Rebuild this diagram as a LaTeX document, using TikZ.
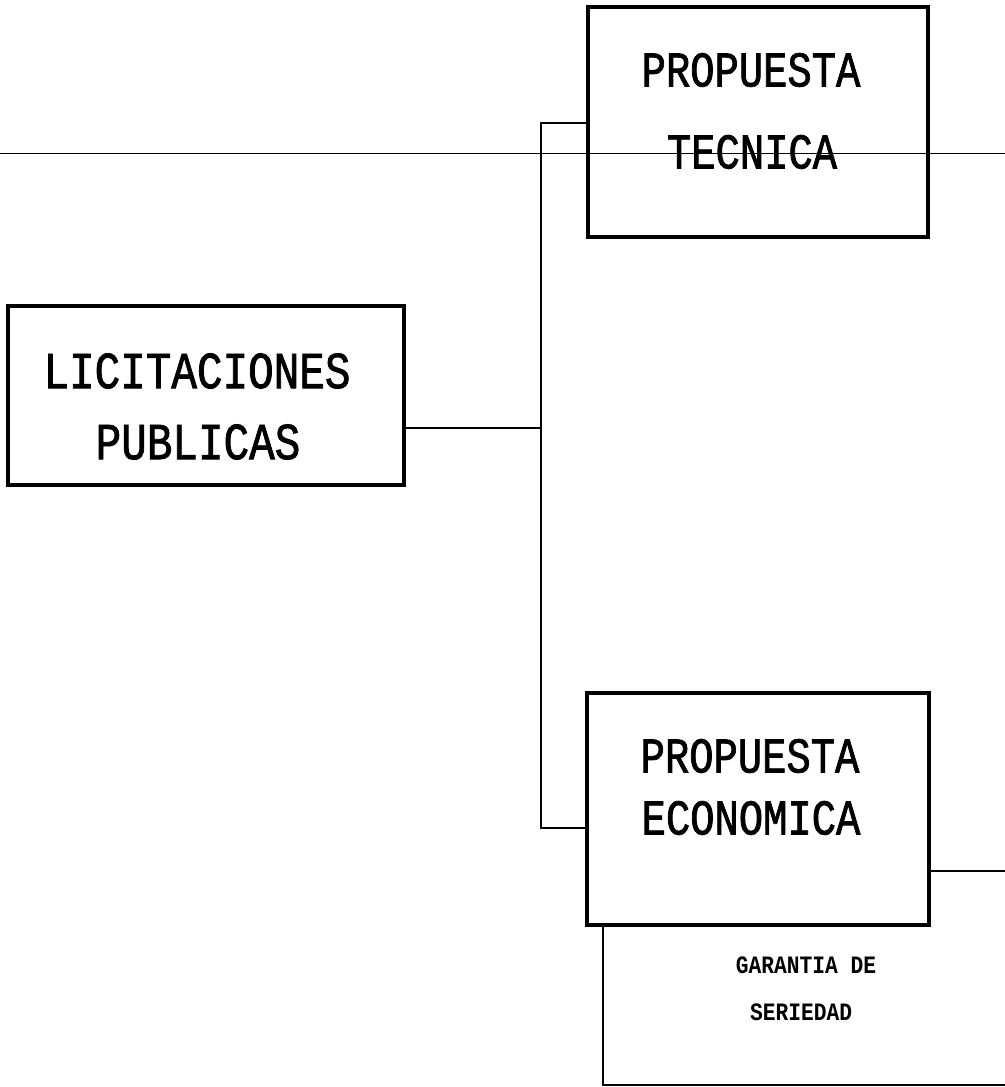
\documentclass[tikz,border=0pt]{standalone}
\usepackage{fontspec}
\newfontfamily\bigmono[FakeStretch=0.81,FakeBold=1.5]{Liberation Mono}
\newfontfamily\widemono[FakeStretch=0.82,FakeBold=1.5]{Liberation Mono}
\newfontfamily\smallmono[FakeStretch=0.85]{Liberation Mono}
\begin{document}
\begin{tikzpicture}[x=0.5pt,y=-0.5pt,
  boxmain/.style={draw,line width=2.4pt,rectangle,inner sep=0pt},
  conn/.style={line width=1pt},
  bigtxt/.style={font=\bigmono\fontsize{25}{25}\selectfont,inner sep=0pt},
  widetxt/.style={font=\widemono\fontsize{26}{26}\selectfont,inner sep=0pt},
  smalltxt/.style={font=\smallmono\bfseries\fontsize{12.5}{12.5}\selectfont,inner sep=0pt}]
\useasboundingbox (0,0) rectangle (1005,1087);
% scan line across page
\draw[line width=0.5pt] (0,153) -- (1005,153);
% boxes
\node[boxmain,minimum width=340*0.5pt,minimum height=230*0.5pt] (tec) at (758,122) {};
\node[boxmain,minimum width=396*0.5pt,minimum height=179*0.5pt] (lic) at (206,395.5) {};
\node[boxmain,minimum width=342*0.5pt,minimum height=232*0.5pt] (eco) at (758,809) {};
% texts
\node[bigtxt] (t1) at (751,70) {PROPUESTA};
\node[bigtxt] (t2) at (752,152) {TECNICA};
\node[widetxt] (l1) at (197,371) {LICITACIONES};
\node[widetxt] (l2) at (198,442) {PUBLICAS};
\node[bigtxt] (e1) at (750,756) {PROPUESTA};
\node[bigtxt] (e2) at (751,818) {ECONOMICA};
\node[smalltxt] (g1) at (806,965) {GARANTIA DE};
\node[smalltxt] (g2) at (801,1012) {SERIEDAD};
% connector coordinates
\coordinate (bus) at (541,428);
\coordinate (right1) at (1005,871);
\coordinate (gtop) at (603,925);
\coordinate (gbot) at (603,1085);
\coordinate (gend) at (1005,1085);
% connectors
\draw[conn] (lic.east |- bus) -- (bus);
\draw[conn] (tec.west |- 0,123) -| (bus) |- (eco.west |- 0,828);
\draw[conn] (eco.east |- right1) -- (right1);
\draw[conn] (gtop) -- (gbot) -- (gend);
\end{tikzpicture}
\end{document}
